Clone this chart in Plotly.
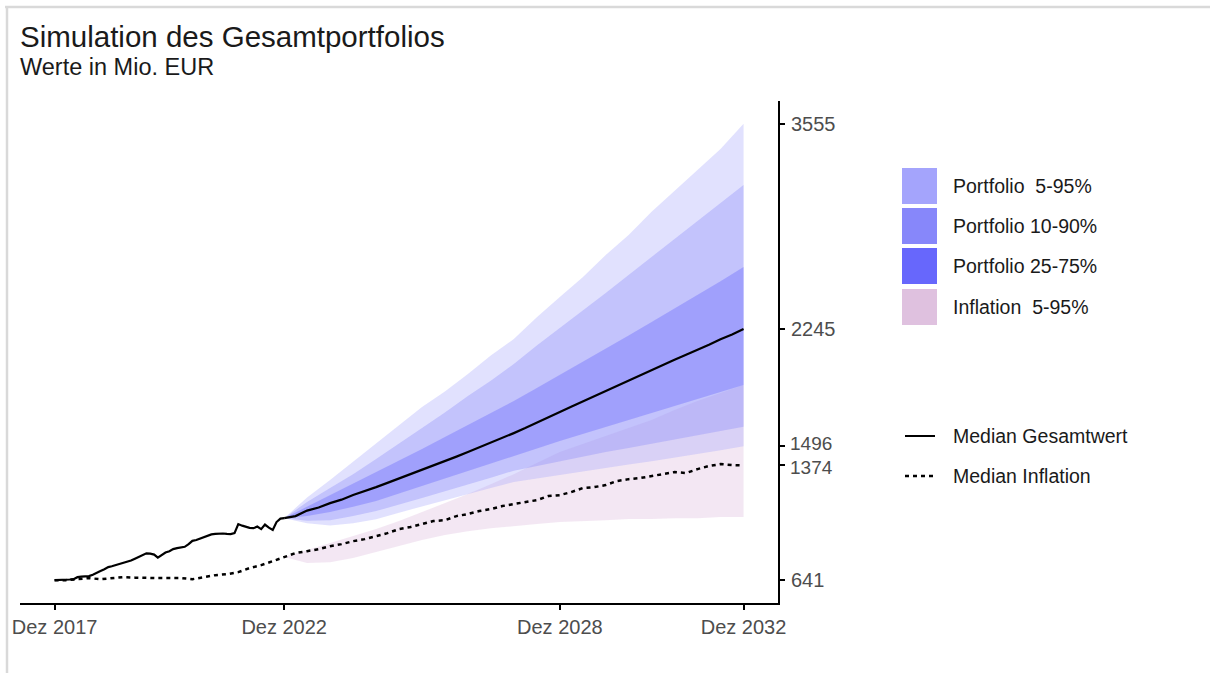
import pandas as pd
import plotly.graph_objects as go

# ---------------- data ----------------
hist_dates = pd.date_range("2017-12-01", "2022-12-01", freq="MS")
hist_value = [641, 641, 641, 644, 645, 647, 660, 663, 667, 667, 676, 686,
              699, 711, 724, 730, 737, 743, 750, 759, 766, 778, 788, 801,
              812, 810, 804, 785, 804, 817, 826, 839, 845, 849, 854, 871,
              892, 897, 906, 919, 925, 933, 936, 938, 939, 936, 935, 941,
              999, 989, 980, 975, 973, 983, 967, 996, 976, 961, 1012, 1034,
              1037]

sim_dates = pd.date_range("2022-12-01", "2032-12-01", freq="3MS")
sim_median = [1037, 1050, 1085, 1105, 1133, 1155, 1185, 1208, 1235, 1262,
              1290, 1315, 1344, 1370, 1402, 1430, 1459, 1488, 1518, 1548,
              1580, 1612, 1648, 1680, 1715, 1748, 1782, 1815, 1849, 1882,
              1918, 1950, 1983, 2015, 2048, 2080, 2111, 2145, 2180, 2210,
              2245]

infl_dates = pd.date_range("2017-12-01", "2032-12-01", freq="3MS")
infl_median = [641, 641, 647, 654, 647, 654, 660, 657, 654, 654,
               654, 654, 647, 660, 673, 679, 692, 718, 737, 762,
               788, 814, 826, 839, 858, 871, 890, 903, 922, 941,
               967, 980, 999, 1018, 1024, 1050, 1063, 1082, 1095, 1114,
               1127, 1139, 1152, 1178, 1184, 1203, 1229, 1235, 1248, 1274,
               1286, 1293, 1306, 1318, 1331, 1325, 1350, 1370, 1382, 1376,
               1374]

band_dates = pd.date_range("2022-12-01", "2032-12-01", freq="6MS")
p95 = [1037, 1168, 1280, 1395, 1516, 1630, 1746, 1846, 1957, 2075, 2181,
       2320, 2449, 2575, 2718, 2846, 2993, 3125, 3261, 3395, 3555]
p90 = [1037, 1140, 1229, 1318, 1414, 1510, 1612, 1712, 1817, 1915, 2021,
       2140, 2251, 2360, 2475, 2590, 2705, 2820, 2935, 3050, 3165]
p75 = [1037, 1110, 1184, 1258, 1331, 1405, 1478, 1555, 1631, 1708, 1785,
       1868, 1951, 2034, 2117, 2204, 2290, 2375, 2462, 2550, 2641]
p25 = [1037, 1050, 1076, 1110, 1146, 1195, 1242, 1290, 1338, 1385, 1433,
       1480, 1529, 1575, 1619, 1663, 1708, 1752, 1798, 1842, 1887]
p10 = [1037, 1020, 1024, 1050, 1082, 1122, 1165, 1208, 1250, 1295, 1340,
       1372, 1401, 1430, 1459, 1485, 1510, 1538, 1565, 1592, 1620]
p05 = [1037, 1005, 990, 1005, 1030, 1072, 1114, 1152, 1191, 1230, 1267,
       1290, 1312, 1335, 1357, 1380, 1401, 1424, 1446, 1470, 1496]
infl95 = [788, 833, 877, 922, 967, 1018, 1076, 1133, 1191, 1254, 1318,
          1389, 1459, 1510, 1561, 1612, 1663, 1727, 1785, 1836, 1887]
infl05 = [788, 750, 756, 782, 820, 858, 897, 929, 954, 973, 986,
          999, 1012, 1018, 1024, 1031, 1031, 1037, 1037, 1044, 1044]

x_tickvals = ["2017-12-01", "2022-12-01", "2028-12-01", "2032-12-01"]
x_ticktext = ["Dez 2017", "Dez 2022", "Dez 2028", "Dez 2032"]
y_tickvals = [641, 1374, 1496, 2245, 3555]
y_ticktext = ["641", "1374", "1496", "2245", "3555"]

band_labels = ["Portfolio\u00a0\u00a05-95%", "Portfolio 10-90%", "Portfolio 25-75%",
               "Inflation\u00a0\u00a05-95%"]
band_swatch = ["#a4a4fc", "#8787fa", "#6767fc", "#dfc1df"]
line_labels = ["Median Gesamtwert", "Median Inflation"]

title = "Simulation des Gesamtportfolios"
subtitle = "Werte in Mio. EUR"

# ---------------- layout constants (pixels) ----------------
W, H = 1210, 673
L, R, T, B = 20, 778, 101, 603
FONT = "Liberation Sans, Arial, sans-serif"
TICK_COLOR = "#4d4d4d"


def px(p):
    return (p - L) / (R - L)


def py(p):
    return (B - p) / (B - T)


fig = go.Figure()


def band(upper, lower, color):
    xs = list(band_dates) + list(band_dates[::-1])
    ys = list(upper) + list(lower[::-1])
    fig.add_trace(go.Scatter(x=xs, y=ys, fill="toself", fillcolor=color,
                             line=dict(width=0), mode="lines",
                             hoverinfo="skip", showlegend=False))


band(infl95, infl05, "rgba(223,192,223,0.38)")
band(p95, p05, "rgba(163,163,251,0.33)")
band(p90, p10, "rgba(133,133,250,0.33)")
band(p75, p25, "rgba(101,101,252,0.36)")

fig.add_trace(go.Scatter(x=infl_dates, y=infl_median, mode="lines",
                         line=dict(color="black", width=2.5, dash="4px,4px"),
                         showlegend=False))
fig.add_trace(go.Scatter(x=hist_dates, y=hist_value, mode="lines",
                         line=dict(color="black", width=2.2), showlegend=False))
fig.add_trace(go.Scatter(x=sim_dates, y=sim_median, mode="lines",
                         line=dict(color="black", width=2.2), showlegend=False))

tickfont = dict(family=FONT, size=20, color=TICK_COLOR)
fig.update_xaxes(type="date", range=["2017-03-01", "2033-09-01"],
                 tickvals=x_tickvals, ticktext=x_ticktext,
                 ticks="outside", ticklen=5, tickwidth=1.5, tickcolor="black",
                 showline=True, linecolor="black", linewidth=2,
                 showgrid=False, zeroline=False, tickfont=tickfont)

# the two close labels (1496 / 1374) are placed as annotations nudged apart
close_pairs = {1496: 2.5, 1374: -2.5}
y_ticktext_axis = ["" if v in close_pairs else t for v, t in zip(y_tickvals, y_ticktext)]
fig.update_yaxes(side="right", range=[495, 3701],
                 tickvals=y_tickvals, ticktext=y_ticktext_axis,
                 ticks="outside", ticklen=5, tickwidth=1.5, tickcolor="black",
                 showline=True, linecolor="black", linewidth=2,
                 showgrid=False, zeroline=False, tickfont=tickfont,
                 ticklabelstandoff=2)

shapes = []
annotations = []

for v, t in zip(y_tickvals, y_ticktext):
    if v in close_pairs:
        annotations.append(dict(xref="paper", yref="y", x=1, y=v, xshift=11,
                                yshift=close_pairs[v], xanchor="left", yanchor="middle",
                                showarrow=False, text=t, borderpad=0,
                                font=dict(family=FONT, size=19, color=TICK_COLOR)))

# screenshot frame lines
shapes.append(dict(type="line", xref="paper", yref="paper",
                   x0=px(5), x1=px(W), y0=py(7), y1=py(7),
                   line=dict(color="#d9d9d9", width=2.5)))
shapes.append(dict(type="line", xref="paper", yref="paper",
                   x0=px(7), x1=px(7), y0=py(7), y1=py(H),
                   line=dict(color="#d9d9d9", width=2.5)))

# legend swatches
sw_tops = [168, 208, 248, 289]
for top, col, lab in zip(sw_tops, band_swatch, band_labels):
    shapes.append(dict(type="rect", xref="paper", yref="paper",
                       x0=px(902), x1=px(937), y0=py(top), y1=py(top + 36),
                       fillcolor=col, line=dict(width=0)))
    annotations.append(dict(xref="paper", yref="paper", x=px(951), y=py(top + 18),
                            xanchor="left", yanchor="middle", showarrow=False,
                            text=lab, font=dict(family=FONT, size=19.5, color="#1a1a1a")))

for yy, dash, lab in zip([436, 476], ["solid", "4px,4px"], line_labels):
    shapes.append(dict(type="line", xref="paper", yref="paper",
                       x0=px(905), x1=px(935), y0=py(yy), y1=py(yy),
                       line=dict(color="black", width=2 if dash == "solid" else 2.5,
                                 dash=dash)))
    annotations.append(dict(xref="paper", yref="paper", x=px(951), y=py(yy),
                            xanchor="left", yanchor="middle", showarrow=False,
                            text=lab, font=dict(family=FONT, size=19.5, color="#1a1a1a")))

annotations.append(dict(xref="paper", yref="paper", x=px(18), y=py(37),
                        xanchor="left", yanchor="middle", showarrow=False,
                        text=title, font=dict(family=FONT, size=29.5, color="#1a1a1a")))
annotations.append(dict(xref="paper", yref="paper", x=px(18), y=py(67),
                        xanchor="left", yanchor="middle", showarrow=False,
                        text=subtitle, font=dict(family=FONT, size=23.5, color="#1a1a1a")))

fig.update_layout(width=W, height=H, autosize=False,
                  margin=dict(l=L, r=W - R, t=T, b=H - B),
                  plot_bgcolor="white", paper_bgcolor="white",
                  showlegend=False, shapes=shapes, annotations=annotations,
                  font=dict(family=FONT))

fig.write_html("out.html", config={"displayModeBar": False},
               post_script="document.body.style.margin='0';document.body.style.overflow='hidden';")
